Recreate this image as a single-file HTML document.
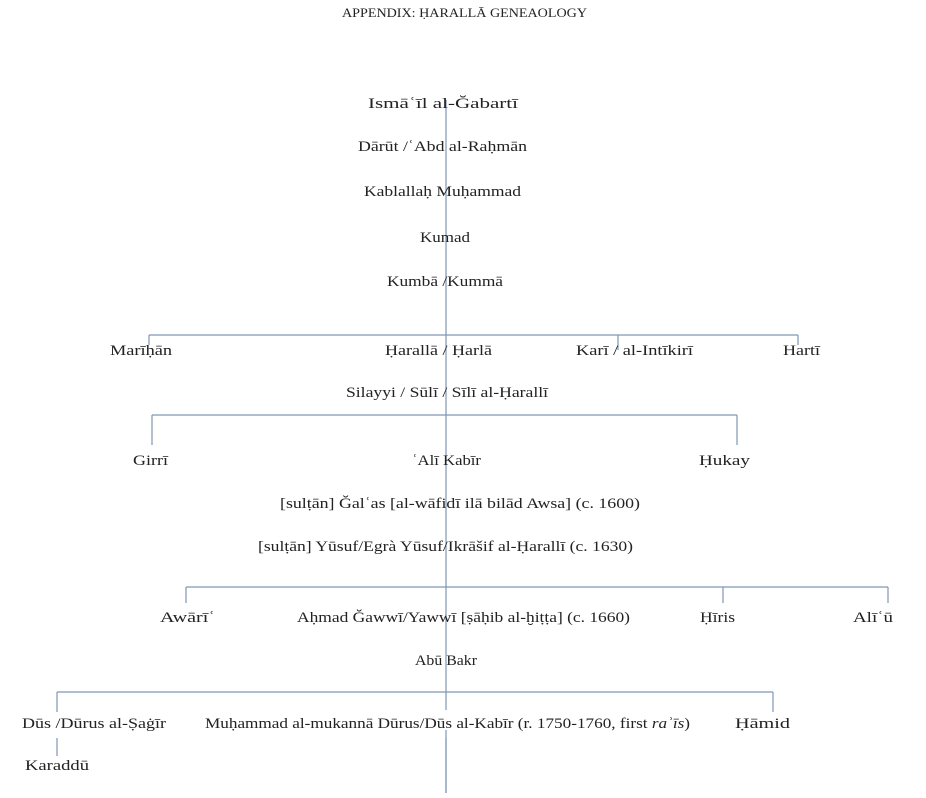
<!DOCTYPE html>
<html><head><meta charset="utf-8"><style>
html,body{margin:0;padding:0;background:#fff;}
svg text{font-family:"Liberation Serif",serif;font-size:15px;fill:#222;}
</style></head><body>
<svg width="926" height="793" viewBox="0 0 926 793" xmlns="http://www.w3.org/2000/svg">
<g stroke="#7f97b4" stroke-width="1.2" fill="none">
<line x1="446" y1="100" x2="446" y2="793"/>
<line x1="149" y1="335" x2="798" y2="335"/>
<line x1="149" y1="335" x2="149" y2="345"/>
<line x1="618" y1="335" x2="618" y2="350"/>
<line x1="798" y1="335" x2="798" y2="345"/>
<line x1="152" y1="415" x2="737" y2="415"/>
<line x1="152" y1="415" x2="152" y2="445"/>
<line x1="737" y1="415" x2="737" y2="445"/>
<line x1="186" y1="587" x2="888" y2="587"/>
<line x1="186" y1="587" x2="186" y2="603"/>
<line x1="723" y1="587" x2="723" y2="603"/>
<line x1="888" y1="587" x2="888" y2="603"/>
<line x1="57" y1="692" x2="773" y2="692"/>
<line x1="57" y1="692" x2="57" y2="712"/>
<line x1="773" y1="692" x2="773" y2="712"/>
<line x1="57" y1="738" x2="57" y2="756"/>
</g>
<rect x="436" y="710" width="20" height="20" fill="#fff"/>
<line x1="446" y1="738" x2="446" y2="793" stroke="#7f97b4" stroke-width="1.2"/>
<g>
<text x="342" y="17" textLength="245" lengthAdjust="spacingAndGlyphs" style="font-size:13px">APPENDIX: ḤARALLĀ GENEAOLOGY</text>
<text x="368" y="108" textLength="150" lengthAdjust="spacingAndGlyphs">Ismāʿīl al-Ğabartī</text>
<text x="358" y="151" textLength="169" lengthAdjust="spacingAndGlyphs">Dārūt /ʿAbd al-Raḥmān</text>
<text x="364" y="196" textLength="157" lengthAdjust="spacingAndGlyphs">Kablallaḥ Muḥammad</text>
<text x="420" y="242" textLength="50" lengthAdjust="spacingAndGlyphs">Kumad</text>
<text x="387" y="286" textLength="116" lengthAdjust="spacingAndGlyphs">Kumbā /Kummā</text>
<text x="110" y="355" textLength="62" lengthAdjust="spacingAndGlyphs">Marīḥān</text>
<text x="385" y="355" textLength="107" lengthAdjust="spacingAndGlyphs">Ḥarallā / Ḥarlā</text>
<text x="576" y="355" textLength="117" lengthAdjust="spacingAndGlyphs">Karī / al-Intīkirī</text>
<text x="783" y="355" textLength="37" lengthAdjust="spacingAndGlyphs">Hartī</text>
<text x="346" y="397" textLength="202" lengthAdjust="spacingAndGlyphs">Silayyi / Sūlī / Sīlī al-Ḥarallī</text>
<text x="133" y="465" textLength="35" lengthAdjust="spacingAndGlyphs">Girrī</text>
<text x="412" y="465" textLength="69" lengthAdjust="spacingAndGlyphs">ʿAlī Kabīr</text>
<text x="699" y="465" textLength="51" lengthAdjust="spacingAndGlyphs">Ḥukay</text>
<text x="280" y="508" textLength="360" lengthAdjust="spacingAndGlyphs">[sulṭān] Ğalʿas [al-wāfidī ilā bilād Awsa] (c. 1600)</text>
<text x="258" y="551" textLength="375" lengthAdjust="spacingAndGlyphs">[sulṭān] Yūsuf/Egrà Yūsuf/Ikrāšif al-Ḥarallī (c. 1630)</text>
<text x="160" y="622" textLength="55" lengthAdjust="spacingAndGlyphs">Awārīʿ</text>
<text x="297" y="622" textLength="333" lengthAdjust="spacingAndGlyphs">Aḥmad Ğawwī/Yawwī [ṣāḥib al-ḫiṭṭa] (c. 1660)</text>
<text x="700" y="622" textLength="35" lengthAdjust="spacingAndGlyphs">Ḥīris</text>
<text x="853" y="622" textLength="40" lengthAdjust="spacingAndGlyphs">Alīʿū</text>
<text x="415" y="665" textLength="62" lengthAdjust="spacingAndGlyphs">Abū Bakr</text>
<text x="22" y="728" textLength="144" lengthAdjust="spacingAndGlyphs">Dūs /Dūrus al-Ṣaġīr</text>
<text x="205" y="728" textLength="485" lengthAdjust="spacingAndGlyphs">Muḥammad al-mukannā Dūrus/Dūs al-Kabīr (r. 1750-1760, first <tspan font-style="italic">raʾīs</tspan>)</text>
<text x="735" y="728" textLength="55" lengthAdjust="spacingAndGlyphs">Ḥāmid</text>
<text x="25" y="770" textLength="64" lengthAdjust="spacingAndGlyphs">Karaddū</text>
</g>
</svg>
</body></html>
